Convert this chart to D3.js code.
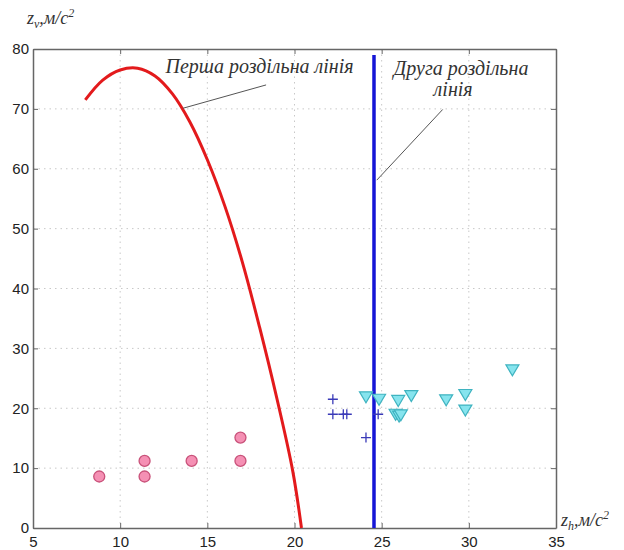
<!DOCTYPE html>
<html>
<head>
<meta charset="utf-8">
<script src="https://cdn.jsdelivr.net/npm/d3@7"></script>
<style>
  body { margin: 0; background: #fff; }
  .tick-label { font-family: "Liberation Sans", Arial, sans-serif; font-size: 15px; fill: #222; }
  .note { font-family: "Liberation Serif", "Times New Roman", serif; font-style: italic; font-size: 20px; fill: #333; }
</style>
</head>
<body>
<div id="chart"></div>
<script>
(function () {
  /* ----------------------- Data ----------------------- */
  const xTicks = [5, 10, 15, 20, 25, 30, 35];
  const yTicks = [0, 10, 20, 30, 40, 50, 60, 70, 80];

  // first dividing line (red curve)
  const firstLineX = [8.0, 9.0, 10.0, 11.0, 12.0, 13.0, 14.0, 15.0, 16.0, 17.0, 18.0, 19.0, 19.9, 20.4];
  const firstLineY = [71.5, 74.8, 76.5, 76.8, 75.5, 72.5, 67.8, 61.5, 53.8, 44.5, 33.5, 21.5, 9.5, 0];

  // second dividing line (blue vertical)
  const secondLineX = [24.56, 24.56];
  const secondLineY = [0, 79];

  // class 1: circles
  const circleX = [8.8, 11.4, 11.4, 14.1, 16.9, 16.9];
  const circleY = [8.6, 11.2, 8.6, 11.2, 15.1, 11.2];

  // class 2: plus signs
  const plusX = [22.2, 22.2, 22.8, 23.0, 24.1, 24.8];
  const plusY = [21.5, 19.0, 19.0, 19.0, 15.1, 19.0];

  // class 3: triangles
  const triX = [24.1, 24.85, 25.95, 25.8, 26.0, 26.1, 26.7, 28.7, 29.8, 29.8, 32.5];
  const triY = [21.9, 21.5, 21.3, 19.0, 18.7, 18.9, 22.1, 21.4, 22.3, 19.7, 26.4];

  /* ----------------------- Layout ----------------------- */
  const W = 624, H = 550;
  const margin = { top: 49, right: 68, bottom: 22, left: 33 };
  const width = W - margin.left - margin.right;
  const height = H - margin.top - margin.bottom;

  const svg = d3.select("#chart").append("svg")
    .attr("width", W).attr("height", H);
  const g = svg.append("g").attr("transform", `translate(${margin.left},${margin.top})`);

  const x = d3.scaleLinear().domain([5, 35]).range([0, width]);
  const y = d3.scaleLinear().domain([0, 80]).range([height, 0]);

  /* ----------------------- Grid ----------------------- */
  g.selectAll(".gx").data(xTicks.slice(1, -1)).enter().append("line")
    .attr("x1", d => x(d)).attr("x2", d => x(d))
    .attr("y1", 0).attr("y2", height)
    .attr("stroke", "#c8c8c8").attr("stroke-width", 1).attr("stroke-dasharray", "1.5,4");
  g.selectAll(".gy").data(yTicks.slice(1, -1)).enter().append("line")
    .attr("y1", d => y(d)).attr("y2", d => y(d))
    .attr("x1", 0).attr("x2", width)
    .attr("stroke", "#c8c8c8").attr("stroke-width", 1).attr("stroke-dasharray", "1.5,4");

  /* ----------------------- Axes (box, inward ticks) ----------------------- */
  const axisColor = "#666";
  const bottom = g.append("g").attr("transform", `translate(0,${height})`)
    .call(d3.axisBottom(x).tickValues(xTicks).tickSizeInner(-5).tickSizeOuter(0).tickPadding(8));
  const left = g.append("g")
    .call(d3.axisLeft(y).tickValues(yTicks).tickSizeInner(-5).tickSizeOuter(0).tickPadding(4));
  const top = g.append("g")
    .call(d3.axisTop(x).tickValues(xTicks).tickSizeInner(-5).tickSizeOuter(0).tickFormat(""));
  const right = g.append("g").attr("transform", `translate(${width},0)`)
    .call(d3.axisRight(y).tickValues(yTicks).tickSizeInner(-5).tickSizeOuter(0).tickFormat(""));

  [bottom, left, top, right].forEach(a => {
    a.select(".domain").attr("stroke", axisColor).attr("stroke-width", 1.5);
    a.selectAll(".tick line").attr("stroke", axisColor);
    a.selectAll(".tick text").attr("class", "tick-label").attr("font-size", null).attr("font-family", null);
  });

  /* ----------------------- Lines ----------------------- */
  const lineGen = d3.line().x(d => x(d[0])).y(d => y(d[1])).curve(d3.curveCatmullRom);

  g.append("path")
    .datum(firstLineX.map((d, i) => [d, firstLineY[i]]))
    .attr("d", lineGen)
    .attr("fill", "none").attr("stroke", "#e31a1c").attr("stroke-width", 3);

  g.append("path")
    .datum(secondLineX.map((d, i) => [d, secondLineY[i]]))
    .attr("d", d3.line().x(d => x(d[0])).y(d => y(d[1])))
    .attr("fill", "none").attr("stroke", "#1515d6").attr("stroke-width", 3.5);

  /* ----------------------- Markers ----------------------- */
  g.selectAll(".circ").data(circleX.map((d, i) => [d, circleY[i]])).enter().append("circle")
    .attr("cx", d => x(d[0])).attr("cy", d => y(d[1])).attr("r", 5.5)
    .attr("fill", "#f590b4").attr("stroke", "#c9527a").attr("stroke-width", 1.3);

  g.selectAll(".plus").data(plusX.map((d, i) => [d, plusY[i]])).enter().append("path")
    .attr("transform", d => `translate(${x(d[0])},${y(d[1])})`)
    .attr("d", "M-5,0H5M0,-5V5")
    .attr("stroke", "#3a3ab8").attr("stroke-width", 1.3).attr("fill", "none");

  g.selectAll(".tri").data(triX.map((d, i) => [d, triY[i]])).enter().append("path")
    .attr("transform", d => `translate(${x(d[0])},${y(d[1])})`)
    .attr("d", "M-6.5,-5L6.5,-5L0,6Z")
    .attr("fill", "#86e4ee").attr("stroke", "#3fb3c0").attr("stroke-width", 1.2);

  /* ----------------------- Annotations ----------------------- */
  g.append("line")
    .attr("x1", x(18.37)).attr("y1", y(74.0)).attr("x2", x(13.6)).attr("y2", y(70.1))
    .attr("stroke", "#555").attr("stroke-width", 1);
  g.append("text").attr("class", "note")
    .attr("x", x(12.6)).attr("y", y(76.0))
    .text("Перша роздільна лінія");

  g.append("line")
    .attr("x1", x(28.5)).attr("y1", y(69.9)).attr("x2", x(24.72)).attr("y2", y(58.1))
    .attr("stroke", "#555").attr("stroke-width", 1);
  g.append("text").attr("class", "note")
    .attr("text-anchor", "middle")
    .attr("x", x(29.55)).attr("y", y(75.6))
    .text("Друга роздільна");
  g.append("text").attr("class", "note")
    .attr("text-anchor", "middle")
    .attr("x", x(29.1)).attr("y", y(72.2))
    .text("лінія");

  /* ----------------------- Axis titles ----------------------- */
  const yTitle = svg.append("text").attr("class", "note")
    .attr("x", 27).attr("y", 24).style("font-size", "18px");
  yTitle.append("tspan").text("z");
  yTitle.append("tspan").attr("dy", 4).style("font-size", "12px").text("v");
  yTitle.append("tspan").attr("dy", -4).text(",м/с");
  yTitle.append("tspan").attr("dy", -7).style("font-size", "12px").text("2");

  const xTitle = svg.append("text").attr("class", "note")
    .attr("x", 561).attr("y", 526).style("font-size", "18px");
  xTitle.append("tspan").text("z");
  xTitle.append("tspan").attr("dy", 4).style("font-size", "12px").text("h");
  xTitle.append("tspan").attr("dy", -4).text(",м/с");
  xTitle.append("tspan").attr("dy", -7).style("font-size", "12px").text("2");
})();
</script>
</body>
</html>
